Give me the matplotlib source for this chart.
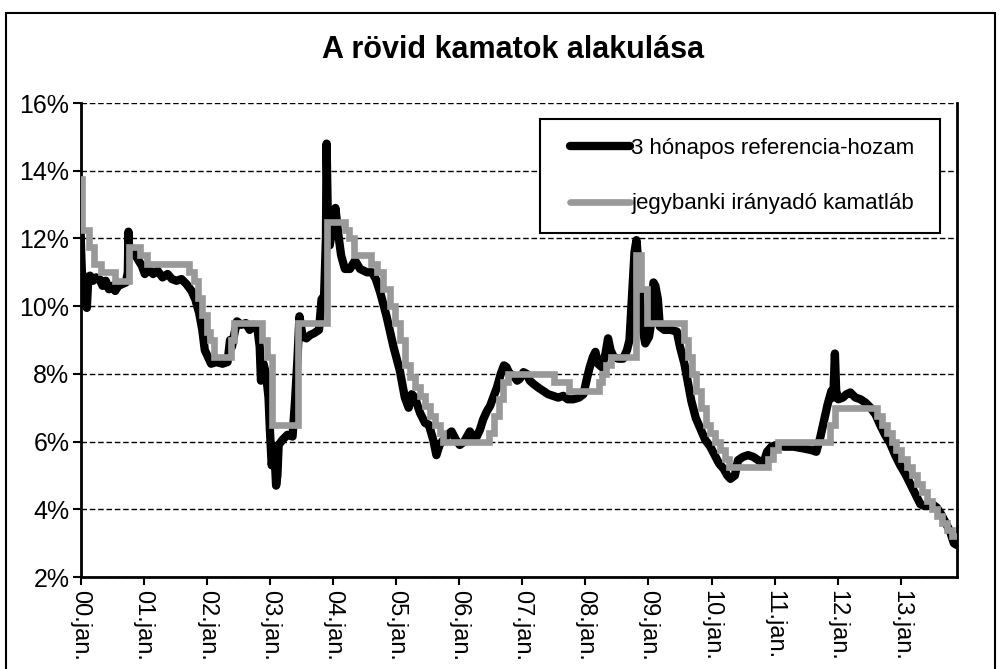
import matplotlib
matplotlib.use("Agg")
import numpy as np
import matplotlib.pyplot as plt
from matplotlib.patches import Rectangle
from matplotlib.legend_handler import HandlerLine2D

plt.rcParams['font.family'] = ['Liberation Sans', 'DejaVu Sans']

# ---- data (time in years since 2000-01-01) ----
base_t = [0.00, 0.03, 0.13, 0.22, 0.33, 0.55, 0.77, 0.95, 1.05, 1.72, 1.80, 1.86,
          1.92, 2.00, 2.06, 2.11, 2.38, 2.44, 2.88, 2.95, 3.04, 3.45, 3.90, 4.19,
          4.25, 4.33, 4.61, 4.70, 4.80, 4.90, 4.98, 5.07, 5.15, 5.22, 5.30, 5.38,
          5.46, 5.54, 5.62, 5.69, 5.74, 6.47, 6.55, 6.63, 6.70, 6.77, 7.50, 7.74,
          8.22, 8.27, 8.33, 8.40, 8.80, 8.88, 8.97, 9.56, 9.62, 9.69, 9.76, 9.84,
          9.91, 9.98, 10.06, 10.14, 10.21, 10.28, 10.89, 10.97, 11.05, 11.88, 11.96,
          12.62, 12.70, 12.78, 12.86, 12.93, 13.01, 13.09, 13.17, 13.25, 13.33,
          13.41, 13.49, 13.57, 13.65, 13.73, 13.81, 13.89]
base_v = [13.75, 12.25, 11.75, 11.25, 11.0, 10.75, 11.75, 11.5, 11.25, 11.0, 10.75, 10.25,
          9.75, 9.25, 9.0, 8.5, 9.0, 9.5, 9.0, 8.5, 6.5, 9.5, 12.5, 12.25,
          12.0, 11.5, 11.25, 11.0, 10.5, 10.0, 9.5, 9.0, 8.25, 7.9, 7.6, 7.35,
          7.05, 6.75, 6.5, 6.25, 6.0, 6.25, 6.75, 7.25, 7.75, 8.0, 7.75, 7.5,
          7.75, 8.0, 8.25, 8.5, 11.5, 10.5, 9.5, 9.0, 8.5, 8.0, 7.5, 7.0,
          6.5, 6.25, 6.0, 5.75, 5.5, 5.25, 5.5, 5.75, 6.0, 6.5, 7.0,
          6.75, 6.5, 6.25, 6.0, 5.75, 5.5, 5.25, 5.0, 4.75, 4.5,
          4.25, 4.0, 3.8, 3.6, 3.4, 3.2, 3.2]

ref_t = [0.00, 0.01, 0.03, 0.05, 0.08, 0.10, 0.12, 0.15, 0.20, 0.25, 0.30, 0.35,
         0.40, 0.45, 0.50, 0.55, 0.60, 0.66, 0.72, 0.75, 0.76, 0.77, 0.80, 0.86,
         0.92, 0.97, 1.02, 1.08, 1.15, 1.22, 1.30, 1.38, 1.45, 1.52, 1.60, 1.68,
         1.76, 1.82, 1.88, 1.93, 1.97, 2.02, 2.07, 2.15, 2.25, 2.33, 2.37, 2.40,
         2.44, 2.48, 2.55, 2.62, 2.68, 2.74, 2.80, 2.84, 2.86, 2.90, 2.94, 2.98,
         3.00, 3.03, 3.07, 3.10, 3.12, 3.14, 3.20, 3.28, 3.36, 3.40, 3.44, 3.47,
         3.52, 3.58, 3.64, 3.70, 3.78, 3.82, 3.86, 3.89, 3.90, 3.92, 3.95, 3.99,
         4.04, 4.08, 4.13, 4.19, 4.27, 4.35, 4.43, 4.54, 4.62, 4.68, 4.75, 4.85,
         4.96, 5.06, 5.14, 5.20, 5.25, 5.30, 5.38, 5.46, 5.52, 5.59, 5.64, 5.69,
         5.75, 5.82, 5.88, 5.95, 6.01, 6.08, 6.17, 6.23, 6.28, 6.33, 6.38, 6.44,
         6.49, 6.55, 6.60, 6.66, 6.71, 6.75, 6.80, 6.86, 6.92, 6.96, 7.02, 7.07,
         7.12, 7.18, 7.25, 7.33, 7.41, 7.49, 7.57, 7.65, 7.72, 7.81, 7.90, 7.97,
         8.03, 8.07, 8.12, 8.16, 8.20, 8.26, 8.32, 8.36, 8.40, 8.45, 8.52, 8.60,
         8.66, 8.70, 8.74, 8.78, 8.81, 8.84, 8.87, 8.90, 8.95, 9.01, 9.05, 9.08,
         9.11, 9.15, 9.18, 9.25, 9.35, 9.45, 9.50, 9.57, 9.62, 9.68, 9.75, 9.82,
         9.90, 9.98, 10.05, 10.12, 10.19, 10.25, 10.30, 10.37, 10.42, 10.50, 10.58, 10.66,
         10.74, 10.82, 10.88, 10.95, 11.03, 11.15, 11.30, 11.45, 11.58, 11.66, 11.72, 11.78,
         11.84, 11.90, 11.93, 11.955, 11.975, 12.01, 12.08, 12.14, 12.20, 12.28, 12.36, 12.44,
         12.52, 12.60, 12.67, 12.75, 12.83, 12.91, 12.99, 13.07, 13.15, 13.23, 13.31, 13.37,
         13.43, 13.50, 13.57, 13.64, 13.71, 13.78, 13.84, 13.88]
ref_v = [12.3, 11.6, 10.6, 10.9, 10.4, 9.95, 10.7, 10.9, 10.75, 10.85, 10.8, 10.6,
         10.75, 10.5, 10.6, 10.45, 10.6, 10.65, 10.7, 11.0, 12.2, 11.7, 11.65, 11.55,
         11.35, 11.2, 10.95, 11.1, 10.95, 11.05, 10.85, 10.95, 10.8, 10.75, 10.8, 10.65,
         10.45, 10.2, 9.8, 9.3, 8.7, 8.5, 8.3, 8.35, 8.3, 8.35, 9.0, 8.8,
         9.2, 9.55, 9.45, 9.5, 9.3, 9.45, 9.4, 8.8, 7.8, 8.3, 8.0, 7.3,
         6.4, 5.3, 5.8, 4.7, 5.0, 5.9, 6.05, 6.2, 6.15, 7.2, 8.5, 9.7,
         9.1, 9.05, 9.15, 9.2, 9.3, 10.2, 10.3, 12.0, 14.8, 12.5, 11.8, 12.3,
         12.9, 12.2, 11.5, 11.1, 11.1, 11.35, 11.1, 11.0, 11.0, 10.8, 10.4, 9.7,
         8.8, 8.1, 7.3, 7.0, 7.4, 7.3, 6.85, 6.55, 6.5, 6.05, 5.6, 5.9,
         6.05, 6.2, 6.3, 6.05, 5.9, 6.0, 6.3, 6.1, 6.15, 6.35, 6.65, 6.9,
         7.05, 7.35, 7.6, 8.0, 8.25, 8.2, 8.0, 7.95, 7.8, 7.85, 8.05, 8.0,
         7.8, 7.7, 7.6, 7.5, 7.4, 7.35, 7.3, 7.35, 7.25, 7.25, 7.3, 7.4,
         7.9, 8.2, 8.5, 8.65, 8.3, 8.2, 8.6, 9.05, 8.7, 8.5, 8.45, 8.45,
         8.7, 9.0, 10.3, 11.6, 11.95, 11.3, 10.2, 9.4, 8.9, 9.1, 9.6, 10.7,
         10.6, 10.2, 9.4, 9.3, 9.3, 9.25, 8.8, 8.3, 7.8, 7.2, 6.7, 6.4,
         6.05, 5.85, 5.6, 5.35, 5.2, 5.0, 4.9, 5.0, 5.45, 5.55, 5.6, 5.55,
         5.45, 5.35, 5.7, 5.85, 5.9, 5.85, 5.85, 5.8, 5.75, 5.7, 6.1, 6.6,
         7.1, 7.5, 7.3, 8.6, 7.5, 7.25, 7.3, 7.4, 7.45, 7.3, 7.25, 7.15,
         7.0, 6.8, 6.5, 6.2, 5.95, 5.6, 5.3, 5.05, 4.75, 4.45, 4.15, 4.1,
         4.1, 4.15, 4.05, 3.85, 3.6, 3.35, 3.0, 2.95]

tick_years = list(range(14))
tick_labels = ["00.jan.", "01.jan.", "02.jan.", "03.jan.", "04.jan.", "05.jan.", "06.jan.",
               "07.jan.", "08.jan.", "09.jan.", "10.jan.", "11.jan.", "12.jan.", "13.jan."]
y_ticks = [2, 4, 6, 8, 10, 12, 14, 16]

label_ref = "3 hónapos referencia-hozam"
label_base = "jegybanki irányadó kamatláb"
title = "A rövid kamatok alakulása"


class ShiftedLineHandler(HandlerLine2D):
    """Legend line handle that leaves a small empty gap on its left side."""
    def get_xdata(self, legend, xdescent, ydescent, width, height, fontsize):
        x0 = -xdescent + 0.5 * fontsize
        x1 = width - xdescent
        xd = np.array([x0, x1])
        return xd, xd


# ---- figure ----
fig = plt.figure(figsize=(10, 6.69), dpi=100)
ax = fig.add_axes([0.0805, 0.1375, 0.8765, 0.7085])

l1, = ax.plot(ref_t, ref_v, color='black', lw=6.0, solid_joinstyle='round',
              solid_capstyle='round', label=label_ref, zorder=3)
l2, = ax.plot(base_t, base_v, color='#999999', lw=4.8, drawstyle='steps-post',
              solid_joinstyle='miter', solid_capstyle='round', label=label_base, zorder=4)

ax.set_xlim(0, 13.89)
ax.set_ylim(2, 16)
ax.set_yticks(y_ticks)
ax.set_yticklabels([f"{v}%" for v in y_ticks], fontsize=18)
ax.set_xticks(tick_years)
ax.set_xticklabels(tick_labels, rotation=-90, fontsize=17, va='top', ha='center')

ax.grid(axis='y', color='black', linestyle=(0, (4, 2)), lw=1.0)
ax.set_axisbelow(True)
ax.spines['top'].set_visible(False)
for s in ['left', 'bottom', 'right']:
    ax.spines[s].set_linewidth(2)
ax.tick_params(axis='both', direction='out', length=6, width=1.5, pad=3)
ax.tick_params(axis='y', pad=2)

hmap = {l1: ShiftedLineHandler(), l2: ShiftedLineHandler()}
leg = ax.legend(handles=[l1, l2], handler_map=hmap,
                loc='upper left', bbox_to_anchor=(0.5243, 0.0, 0.4564, 0.9662),
                mode='expand', fontsize=16,
                frameon=True, fancybox=False, edgecolor='black', framealpha=1,
                handlelength=3.2, handletextpad=0.05, labelspacing=1.55,
                borderpad=0.85, borderaxespad=0)
leg.get_frame().set_linewidth(1.5)

fig.text(0.513, 0.926, title, ha='center', va='center', fontsize=22, fontweight='bold')

fig.patches.append(Rectangle((0.006, -0.1), 0.989, 1.08, transform=fig.transFigure,
                             fill=False, edgecolor='black', lw=1.5))

fig.savefig("out.png", dpi=100)
